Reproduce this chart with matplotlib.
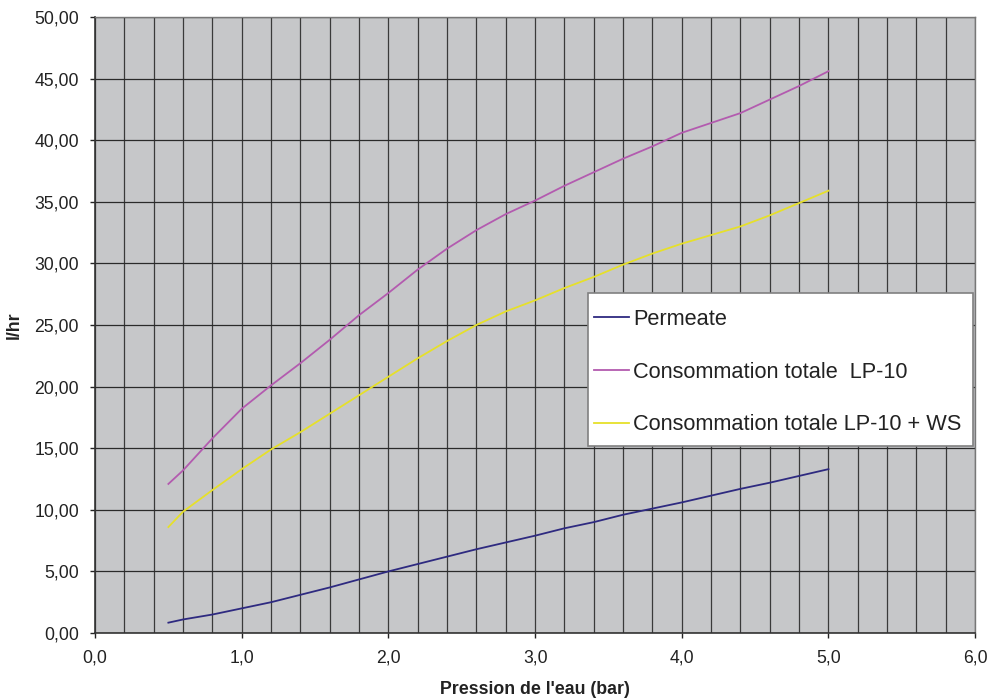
import numpy as np
import matplotlib.pyplot as plt
from matplotlib.patches import Rectangle
from matplotlib.ticker import MultipleLocator, FuncFormatter

# pressure (bar), values
pression = [0.5, 0.6, 0.8, 1.0, 1.2, 1.4, 1.6, 1.8, 2.0, 2.2, 2.4, 2.6,
            2.8, 3.0, 3.2, 3.4, 3.6, 3.8, 4.0, 4.2, 4.4, 4.6, 4.8, 5.0]
permeate = [0.84, 1.1, 1.5, 2.0, 2.5, 3.1, 3.7, 4.35, 5.0, 5.6, 6.2, 6.8,
            7.35, 7.9, 8.5, 9.0, 9.6, 10.1, 10.6, 11.15, 11.7, 12.2, 12.75, 13.3]
conso_lp10 = [12.1, 13.2, 15.8, 18.2, 20.1, 21.9, 23.8, 25.8, 27.6, 29.5, 31.2, 32.7,
              34.0, 35.1, 36.3, 37.4, 38.5, 39.5, 40.6, 41.4, 42.2, 43.3, 44.4, 45.6]
conso_lp10_ws = [8.6, 9.85, 11.6, 13.3, 14.9, 16.3, 17.8, 19.3, 20.8, 22.3, 23.7, 25.0,
                 26.1, 27.0, 28.0, 28.9, 29.9, 30.8, 31.6, 32.3, 33.0, 33.9, 34.9, 35.9]

labels = ["Permeate", "Consommation totale  LP-10", "Consommation totale LP-10 + WS"]
colors = ["#2E2A80", "#B35BAF", "#E6E02A"]

plt.rcParams['font.family'] = ['Liberation Sans', 'DejaVu Sans']

fig = plt.figure(figsize=(9.9, 6.99), dpi=100)
ax = fig.add_axes([0.096, 0.0944, 0.889, 0.8813])
ax.set_facecolor("#C6C7C9")

for series, lab, col in zip([permeate, conso_lp10, conso_lp10_ws], labels, colors):
    ax.plot(pression, series, color=col, linewidth=1.3, label=lab, zorder=3)

ax.set_xlim(0, 6)
ax.set_ylim(0, 50)
ax.xaxis.set_major_locator(MultipleLocator(1))
ax.xaxis.set_minor_locator(MultipleLocator(0.2))
ax.yaxis.set_major_locator(MultipleLocator(5))
ax.xaxis.set_major_formatter(FuncFormatter(lambda v, p: f"{v:.1f}".replace(".", ",")))
ax.yaxis.set_major_formatter(FuncFormatter(lambda v, p: f"{v:.2f}".replace(".", ",")))

ax.grid(True, which="both", axis="x", color="#3A3A3A", linewidth=0.9)
ax.grid(True, which="major", axis="y", color="#2A2A2A", linewidth=0.9)
ax.set_axisbelow(True)

ax.tick_params(axis="both", which="major", labelsize=12.7, direction="out",
               length=3.6, width=1, color="#222222", labelcolor="#222222")
ax.tick_params(axis="x", which="minor", length=0)
ax.tick_params(axis="x", pad=8)
ax.tick_params(axis="y", pad=8)

for side in ["left", "bottom"]:
    ax.spines[side].set_color("#333333")
    ax.spines[side].set_linewidth(1.2)
for side in ["top", "right"]:
    ax.spines[side].set_color("#777777")
    ax.spines[side].set_linewidth(1.0)

ax.set_xlabel("Pression de l'eau (bar)", fontsize=12.8, fontweight="bold",
              color="#222222", labelpad=11)
ax.set_ylabel("l/hr", fontsize=12.8, fontweight="bold", color="#222222", labelpad=8)

# legend box drawn separately so its padding matches the reference
ax.add_patch(Rectangle((0.56, 0.304), 0.437, 0.248, transform=ax.transAxes,
                       facecolor="white", edgecolor="#808080", linewidth=1.2, zorder=4))
leg = ax.legend(loc="center left", bbox_to_anchor=(0.5665, 0.4235), fontsize=15.7,
                frameon=False, handlelength=1.6, handletextpad=0.2,
                labelspacing=1.45, borderpad=0, borderaxespad=0)
leg.set_zorder(5)
for txt in leg.get_texts():
    txt.set_color("#222222")

fig.savefig("out.png", dpi=100)
